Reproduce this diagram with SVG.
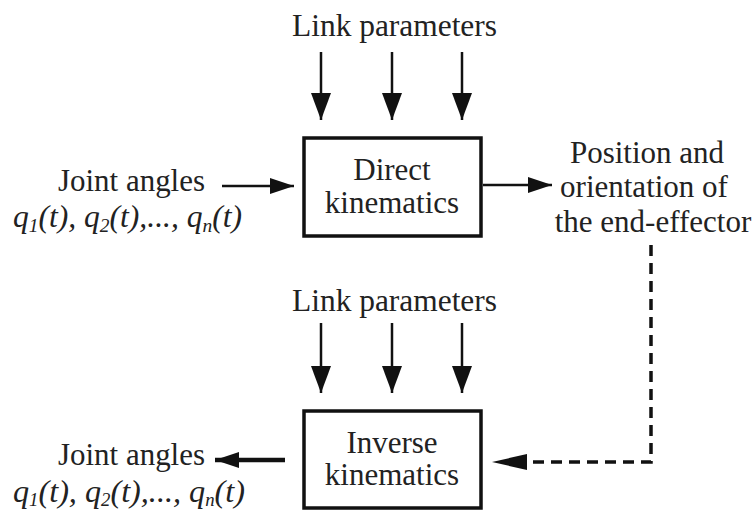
<svg xmlns="http://www.w3.org/2000/svg" width="755" height="512" viewBox="0 0 755 512">
<style>
text{font-family:"Liberation Serif","DejaVu Serif",serif;font-size:31px;fill:#222}
.c{text-anchor:middle}
.i{font-style:italic}
.box{fill:#fff;stroke:#111;stroke-width:3.5}
.ln{stroke:#111;stroke-width:2.5;fill:none}
.dash{stroke:#111;stroke-width:3.5;fill:none;stroke-dasharray:11 7}
</style>
<defs>
<marker id="ah" markerUnits="userSpaceOnUse" markerWidth="28" markerHeight="22" refX="27" refY="10" orient="auto" viewBox="0 0 28 22">
<path d="M0,0 L27,10 L0,20 Z" fill="#111"/>
</marker>
<marker id="ahs" markerUnits="userSpaceOnUse" markerWidth="28" markerHeight="20" refX="24" refY="8" orient="auto" viewBox="0 0 28 20">
<path d="M0,0 L24,8 L0,16 Z" fill="#111"/>
</marker>
</defs>

<g id="link-params-top">
<text x="292" y="36" textLength="205" lengthAdjust="spacingAndGlyphs">Link parameters</text>
</g>
<g id="direct">
<rect class="box" x="304" y="138" width="177" height="98"/>
<text class="c" x="392" y="180">Direct</text>
<text class="c" x="392" y="213">kinematics</text>
</g>
<g id="joint-in">
<text x="58" y="191" textLength="147" lengthAdjust="spacingAndGlyphs">Joint angles</text>
<text class="i" x="13" y="227" textLength="229" lengthAdjust="spacingAndGlyphs">q<tspan font-size="19" dy="5">1</tspan><tspan dy="-5">(t), q</tspan><tspan font-size="19" dy="5">2</tspan><tspan dy="-5">(t),..., q</tspan><tspan font-size="19" dy="5">n</tspan><tspan dy="-5">(t)</tspan></text>
</g>
<g id="pose">
<text class="c" x="647" y="163">Position and</text>
<text class="c" x="644" y="197">orientation of</text>
<text class="c" x="653" y="232">the end-effector</text>
</g>
<g id="link-params-bottom">
<text x="292" y="311" textLength="205" lengthAdjust="spacingAndGlyphs">Link parameters</text>
</g>
<g id="inverse">
<rect class="box" x="304" y="411" width="177" height="97"/>
<text class="c" x="392" y="453">Inverse</text>
<text class="c" x="392" y="485">kinematics</text>
</g>
<g id="joint-out">
<text x="58" y="465" textLength="147" lengthAdjust="spacingAndGlyphs">Joint angles</text>
<text class="i" x="13" y="502" font-size="28" textLength="232" lengthAdjust="spacingAndGlyphs">q<tspan font-size="18" dy="4">1</tspan><tspan dy="-4">(t), q</tspan><tspan font-size="18" dy="4">2</tspan><tspan dy="-4">(t),..., q</tspan><tspan font-size="18" dy="4">n</tspan><tspan dy="-4">(t)</tspan></text>
</g>

<g id="connectors">
<line class="ln" x1="321" y1="52" x2="321" y2="120" marker-end="url(#ah)"/>
<line class="ln" x1="392" y1="52" x2="392" y2="120" marker-end="url(#ah)"/>
<line class="ln" x1="462" y1="52" x2="462" y2="120" marker-end="url(#ah)"/>
<line class="ln" x1="222" y1="186" x2="294" y2="186" marker-end="url(#ahs)"/>
<line class="ln" x1="483" y1="185" x2="552" y2="185" marker-end="url(#ahs)"/>
<line class="ln" x1="321" y1="323" x2="321" y2="393" marker-end="url(#ah)"/>
<line class="ln" x1="392" y1="323" x2="392" y2="393" marker-end="url(#ah)"/>
<line class="ln" x1="462" y1="323" x2="462" y2="393" marker-end="url(#ah)"/>
<path class="dash" d="M651,245 L651,462 L527,462"/>
<path d="M492,462 L527,454 L527,470 Z" fill="#111"/>
<line x1="285" y1="460" x2="215" y2="460" stroke="#111" stroke-width="4.5" marker-end="url(#ahs)"/>
</g>
</svg>
